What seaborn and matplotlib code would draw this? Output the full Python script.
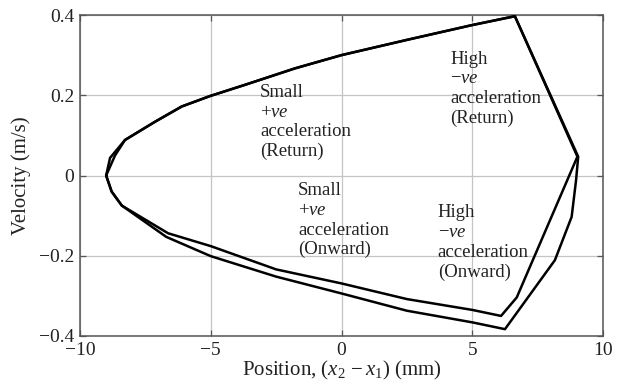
import matplotlib
matplotlib.use("Agg")
import matplotlib.pyplot as plt
import seaborn as sns
import pandas as pd

# Phase-plane trajectory: relative position vs velocity, two cycles
loop1_pos = [-9.0, -8.85, -8.28, -7.13, -6.11, -5.03, -3.69, -1.78, 0.0, 2.5, 5.0, 6.63, 9.02,
             6.7, 6.1, 5.0, 2.5, 0.0, -2.5, -5.0, -6.63, -8.4, -8.79, -9.0]
loop1_vel = [0.0, 0.044, 0.0885, 0.134, 0.172, 0.198, 0.226, 0.267, 0.30, 0.338, 0.375, 0.397, 0.047,
             -0.304, -0.350, -0.335, -0.308, -0.269, -0.234, -0.176, -0.144, -0.075, -0.040, 0.0]

loop2_pos = [-9.0, -8.66, -8.28, -7.13, -6.11, -5.03, -3.69, -1.78, 0.0, 2.5, 5.0, 6.63, 9.05,
             8.97, 8.8, 8.16, 6.25, 5.0, 2.5, 0.0, -2.5, -5.0, -6.7, -8.4, -8.79, -9.0]
loop2_vel = [0.0, 0.050, 0.0885, 0.134, 0.172, 0.198, 0.226, 0.267, 0.30, 0.338, 0.375, 0.397, 0.047,
             -0.011, -0.103, -0.211, -0.383, -0.366, -0.337, -0.294, -0.252, -0.201, -0.153, -0.075, -0.040, 0.0]

x_ticks = [-10, -5, 0, 5, 10]
y_ticks = [-0.4, -0.2, 0, 0.2, 0.4]

annotations = [
    (-3.12, 0.228, "Small\n+$\\mathit{ve}$\nacceleration\n(Return)"),
    (4.15, 0.311, "High\n\u2212$\\mathit{ve}$\nacceleration\n(Return)"),
    (-1.66, -0.017, "Small\n+$\\mathit{ve}$\nacceleration\n(Onward)"),
    (3.68, -0.072, "High\n\u2212$\\mathit{ve}$\nacceleration\n(Onward)"),
]

sns.set_theme(style="white")
plt.rcParams["font.family"] = ["Liberation Serif", "DejaVu Serif"]
plt.rcParams["mathtext.fontset"] = "custom"
plt.rcParams["mathtext.rm"] = "Liberation Serif"
plt.rcParams["mathtext.it"] = "Liberation Serif:italic"
plt.rcParams["axes.unicode_minus"] = True

fig = plt.figure(figsize=(6.22, 3.87), dpi=100)
ax = fig.add_axes([0.1286, 0.1318, 0.8409, 0.8294])

df1 = pd.DataFrame({"pos": loop1_pos, "vel": loop1_vel})
df2 = pd.DataFrame({"pos": loop2_pos, "vel": loop2_vel})
sns.lineplot(data=df1, x="pos", y="vel", sort=False, estimator=None,
             color="black", linewidth=1.8, ax=ax, zorder=3)
sns.lineplot(data=df2, x="pos", y="vel", sort=False, estimator=None,
             color="black", linewidth=1.8, ax=ax, zorder=3)

ax.set_xlim(-10, 10)
ax.set_ylim(-0.4, 0.4)
ax.set_xticks(x_ticks)
ax.set_yticks(y_ticks)
ax.set_xticklabels([f"{t:g}".replace("-", "\u2212") for t in x_ticks])
ax.set_yticklabels([f"{t:g}".replace("-", "\u2212") for t in y_ticks])
ax.grid(True, color="#c4c4c4", linewidth=0.9)
ax.set_axisbelow(True)
for s in ax.spines.values():
    s.set_color("#555555")
    s.set_linewidth(1.1)
ax.tick_params(direction="in", length=4, width=0.9, color="#555555",
               labelsize=14, labelcolor="#222222", top=True, right=True,
               bottom=True, left=True, pad=4)

ax.set_xlabel("Position, $(\\mathit{x}_2\\,\u2212\\mathit{x}_1)$ (mm)",
              fontsize=15, color="#222222", labelpad=0)
ax.set_ylabel("Velocity (m/s)", fontsize=15, color="#222222", labelpad=6)

for x, y, txt in annotations:
    ax.text(x, y, txt, fontsize=13.5, color="#222222", va="top", ha="left",
            linespacing=1.2, zorder=4)

fig.savefig("out.png", dpi=100)
